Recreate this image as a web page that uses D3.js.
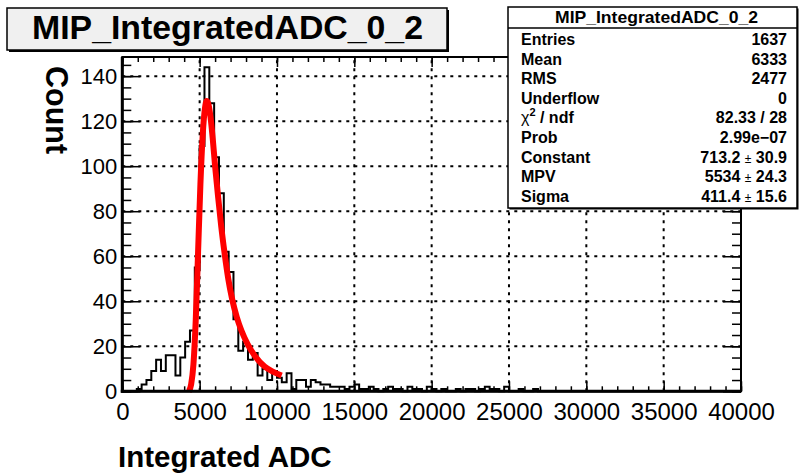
<!DOCTYPE html>
<html><head><meta charset="utf-8">
<script src="https://cdn.jsdelivr.net/npm/d3@7/dist/d3.min.js"></script>
<style>
body{margin:0;background:#fff}
svg{display:block}
text{font-family:"Liberation Sans",Arial,Helvetica,sans-serif;fill:#000}
</style>
</head><body>
<script>
// ---------------- data ----------------
const histTitle = "MIP_IntegratedADC_0_2";
const xAxisTitle = "Integrated ADC";
const yAxisTitle = "Count";
const xMin = 0, xMax = 40000, nBins = 128;
const counts = [
  0,0,0,1,3,5,9,14,9,16,
  16,7,15,22,27,55,109,144,128,104,
  88,62,53,32,18,22,14,17,7,10,
  5,9,6,4,8,1,5,5,2,5,
  4,3,3,2,2,2,1,2,3,1,
  1,2,1,0,1,2,1,1,0,2,
  1,1,0,2,1,0,1,0,0,1,
  0,1,1,0,1,2,1,1,0,2,
  0,0,1,0,0,1,0,0,0,0,
  0,0,0,0,0,0,0,0,0,0,
  0,0,0,0,0,0,0,0,0,0,
  0,0,0,0,0,0,0,0,0,0,
  0,0,0,0,0,0,0,0
];
// Landau fit curve
const fitX = [4300,4450,4600,4750,4900,5050,5200,5350,5450,5550,5700,5850,6000,6200,6400,6600,6850,7100,7400,7700,8100,8600,9200,9800,10300];
const fitY = [0,3,12,32,62,92,114,126,129,128,122,112,100,86,73,62,50,41,33,27,21,15.5,11,8.5,7];
const xTicks = [0,5000,10000,15000,20000,25000,30000,35000,40000];
const xMinorTicks = d3.range(0, 40001, 1000);
const yTicks = [0,20,40,60,80,100,120,140];
const yMinorTicks = d3.range(0, 149, 5);
const yMax = 148.5;
const statsLabels = ["Entries","Mean","RMS","Underflow","chi2","Prob","Constant","MPV","Sigma"];
const statsValues = ["1637","6333","2477","0","82.33 / 28","2.99e\u221207",["713.2","30.9"],["5534","24.3"],["411.4","15.6"]];

// ---------------- drawing ----------------
const W = 800, H = 476;
const svg = d3.select("body").append("svg").attr("width", W).attr("height", H);

const x = d3.scaleLinear().domain([xMin, xMax]).range([122.3, 741]);
const y = d3.scaleLinear().domain([0, yMax]).range([391.3, 57]);
const bw = (xMax - xMin) / nBins;

// grid
const grid = svg.append("g").attr("stroke", "#000").attr("stroke-width", 2).attr("stroke-dasharray", "3,5");
grid.selectAll("line.v").data(xTicks.filter(d => d > xMin && d < xMax)).join("line")
  .attr("x1", d => x(d)).attr("x2", d => x(d)).attr("y1", y(0)).attr("y2", y(yMax));
grid.selectAll("line.h").data(yTicks.filter(d => d > 0)).join("line")
  .attr("x1", x(xMin)).attr("x2", x(xMax)).attr("y1", d => y(d)).attr("y2", d => y(d));

// histogram outline
const pts = [[x(xMin), y(0)]];
counts.forEach((c, i) => {
  const lo = xMin + i * bw, hi = lo + bw;
  pts.push([x(lo), y(c)], [x(hi), y(c)]);
});
pts.push([x(xMax), y(0)]);
svg.append("path").attr("d", d3.line()(pts)).attr("fill", "none").attr("stroke", "#000").attr("stroke-width", 2);

// fit
const fitPts = fitX.map((v, i) => [v, fitY[i]]);
svg.append("path")
  .attr("d", d3.line().x(d => x(d[0])).y(d => y(d[1])).curve(d3.curveMonotoneX)(fitPts))
  .attr("fill", "none").attr("stroke", "#ff0000").attr("stroke-width", 6).attr("stroke-linejoin", "round");

// axes ticks
function noDomain(g){ g.select(".domain").remove(); g.selectAll(".tick line").attr("stroke","#000").attr("stroke-width",1.5); }
svg.append("g").attr("transform", `translate(0,${y(0)})`)
  .call(d3.axisBottom(x).tickValues(xMinorTicks).tickSizeInner(-5).tickSizeOuter(0).tickFormat(""))
  .call(noDomain);
const xAx = svg.append("g").attr("transform", `translate(0,${y(0)})`)
  .call(d3.axisBottom(x).tickValues(xTicks).tickSizeInner(-10).tickSizeOuter(0).tickPadding(12).tickFormat(d3.format("d")))
  .call(noDomain);
xAx.selectAll("text").attr("font-size", 24).attr("fill", "#000");
// top ticks
svg.append("g").attr("transform", `translate(0,${y(yMax)})`)
  .call(d3.axisTop(x).tickValues(xMinorTicks).tickSizeInner(-5).tickSizeOuter(0).tickFormat(""))
  .call(noDomain);
svg.append("g").attr("transform", `translate(0,${y(yMax)})`)
  .call(d3.axisTop(x).tickValues(xTicks).tickSizeInner(-10).tickSizeOuter(0).tickFormat(""))
  .call(noDomain);
// left ticks
svg.append("g").attr("transform", `translate(${x(xMin)},0)`)
  .call(d3.axisLeft(y).tickValues(yMinorTicks).tickSizeInner(-9).tickSizeOuter(0).tickFormat(""))
  .call(noDomain);
const yAx = svg.append("g").attr("transform", `translate(${x(xMin)},0)`)
  .call(d3.axisLeft(y).tickValues(yTicks).tickSizeInner(-18).tickSizeOuter(0).tickPadding(5).tickFormat(d3.format("d")))
  .call(noDomain);
yAx.selectAll("text").attr("font-size", 22).attr("fill", "#000");
// right ticks
svg.append("g").attr("transform", `translate(${x(xMax)},0)`)
  .call(d3.axisRight(y).tickValues(yMinorTicks).tickSizeInner(-9).tickSizeOuter(0).tickFormat(""))
  .call(noDomain);
svg.append("g").attr("transform", `translate(${x(xMax)},0)`)
  .call(d3.axisRight(y).tickValues(yTicks).tickSizeInner(-18).tickSizeOuter(0).tickFormat(""))
  .call(noDomain);

// frame
svg.append("rect").attr("x", x(xMin)).attr("y", y(yMax)).attr("width", x(xMax) - x(xMin)).attr("height", y(0) - y(yMax))
  .attr("fill", "none").attr("stroke", "#000").attr("stroke-width", 2);
svg.append("line").attr("x1", x(xMin)).attr("x2", x(xMin)).attr("y1", y(yMax)).attr("y2", y(0) + 1.5).attr("stroke", "#000").attr("stroke-width", 3);
svg.append("line").attr("x1", x(xMin) - 1.5).attr("x2", x(xMax)).attr("y1", y(0)).attr("y2", y(0)).attr("stroke", "#000").attr("stroke-width", 3);

// axis titles
svg.append("text").attr("x", 118).attr("y", 467).attr("font-size", 29.5).attr("font-weight", "bold").text(xAxisTitle);
svg.append("text").attr("transform", "translate(46,66) rotate(90)").attr("font-size", 30.5).attr("font-weight", "bold").text(yAxisTitle);

// title box
const tb = svg.append("g");
tb.append("rect").attr("x", 9).attr("y", 10).attr("width", 440).attr("height", 42).attr("fill", "#000");
tb.append("rect").attr("x", 7).attr("y", 8).attr("width", 440).attr("height", 42).attr("fill", "#f0f0f0").attr("stroke", "#000").attr("stroke-width", 1.5);
tb.append("text").attr("x", 32).attr("y", 39).attr("font-size", 33).attr("font-weight", "bold")
  .attr("textLength", 391).attr("lengthAdjust", "spacingAndGlyphs").text(histTitle);

// stats box
const sb = svg.append("g");
const sx = 508, sy = 7, sw = 289, sh = 201;
sb.append("rect").attr("x", sx + 1.5).attr("y", sy + 1.5).attr("width", sw).attr("height", sh).attr("fill", "#000");
sb.append("rect").attr("x", sx).attr("y", sy).attr("width", sw).attr("height", sh).attr("fill", "#fff").attr("stroke", "#000").attr("stroke-width", 1.5);
sb.append("line").attr("x1", sx).attr("x2", sx + sw).attr("y1", 28).attr("y2", 28).attr("stroke", "#000").attr("stroke-width", 1.5);
sb.append("text").attr("x", 555).attr("y", 22.5).attr("font-size", 17).attr("font-weight", "bold")
  .attr("textLength", 203).attr("lengthAdjust", "spacingAndGlyphs").text(histTitle);
statsLabels.forEach((lab, i) => {
  const ty = 45 + i * 19.6;
  const t = sb.append("text").attr("x", 521).attr("y", ty).attr("font-size", 16).attr("font-weight", "bold");
  if (lab === "chi2") {
    t.attr("font-weight", "normal").append("tspan").text("\u03c7");
    t.append("tspan").attr("font-size", 11).attr("dy", -7).attr("font-weight", "bold").text("2");
    t.append("tspan").attr("dy", 7).attr("font-weight", "bold").text(" / ndf");
  } else t.text(lab);
  const v = statsValues[i];
  const tv = sb.append("text").attr("x", 787).attr("y", ty).attr("text-anchor", "end").attr("font-size", 16).attr("font-weight", "bold");
  if (Array.isArray(v)) {
    tv.append("tspan").text(v[0] + " ");
    tv.append("tspan").attr("font-weight", "normal").attr("font-size", 12).text("\u00b1");
    tv.append("tspan").text(" " + v[1]);
  } else tv.text(v);
});
</script>
</body></html>
